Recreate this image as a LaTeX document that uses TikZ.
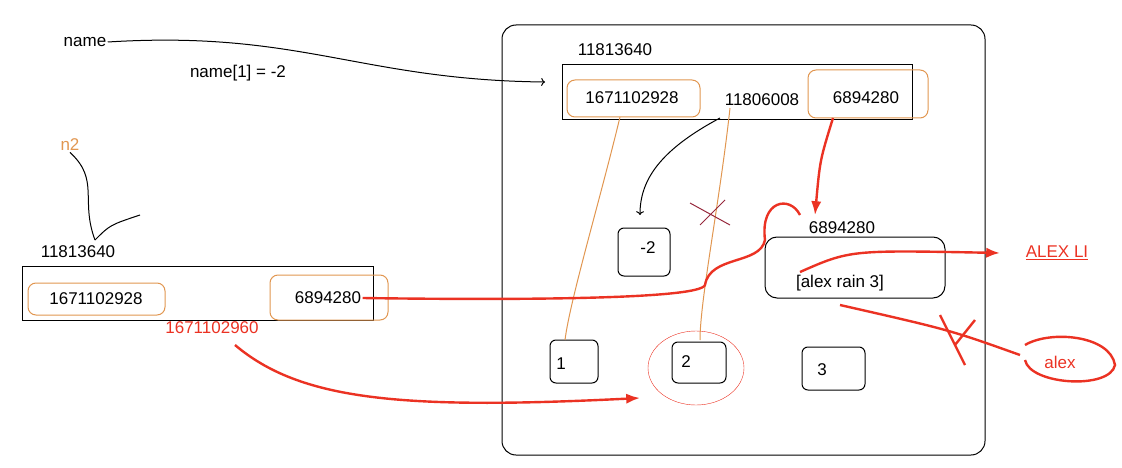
\documentclass[tikz,border=0pt]{standalone}
\usepackage{fontspec}
\setmainfont{Liberation Sans}
\usetikzlibrary{arrows.meta}
\definecolor{pen}{RGB}{235,50,35}
\definecolor{tan}{RGB}{225,150,80}
\begin{document}
\begin{tikzpicture}[x=1pt, y=-1pt, line width=1pt, every node/.style={font=\fontsize{17}{19}\selectfont, inner sep=1pt}]
        \tikzstyle{box}=[draw]
        \tikzstyle{rbox}=[draw, rounded corners=6pt]
        \tikzstyle{obox}=[draw=tan, rounded corners=8pt]
        \tikzstyle{red}=[draw=pen, line width=2.4pt]
        \useasboundingbox (0,0) rectangle (1122,468);
        \draw[rbox, rounded corners=14pt] (502,25) rectangle (985,455);

        % list name
        \node (name) at (85,42) {name};
        \node (assign) at (238,73) {name[1] = -2};
        \node (idA) at (615,50) {11813640};
        \draw[box] (562,65) rectangle (912,120);
        \draw[obox] (567,80) rectangle (700,117);
        \node (a0) at (632,98) {1671102928};
        \node (a1) at (762,100) {11806008};
        \draw[obox] (808,70) rectangle (928,118);
        \node (a2) at (866,98) {6894280};

        % values
        \draw[rbox] (618,228) rectangle (670,276);
        \node (m2) at (648,248) {-2};
        \draw[rbox] (550,340) rectangle (598,383);
        \node (v1) at (561,364) {1};
        \draw[rbox] (672,342) rectangle (726,383);
        \node (v2) at (686,362) {2};
        \draw[thin, draw=pen] (696,368) ellipse (48pt and 37pt);
        \draw[rbox] (802,347) rectangle (865,390);
        \node (v3) at (822,370) {3};
        \node (idC) at (842,228) {6894280};
        \draw[rbox, rounded corners=12pt] (765,237) rectangle (945,298);
        \node (inner) at (840,283) {[alex rain 3]};
        \node[text=pen] (alexli) at (1057,253) {\underline{ALEX LI}};
        \node[text=pen] (alex) at (1060,362) {alex};

        % n2
        \node[text=tan] (n2) at (70,145) {n2};
        \node (idB) at (78,252) {11813640};
        \draw[box] (22,266) rectangle (373,320);
        \draw[obox] (28,283) rectangle (165,315);
        \node (b0) at (96,299) {1671102928};
        \draw[obox] (270,275) rectangle (388,320);
        \node (b2) at (328,298) {6894280};
        \node[text=pen] (b1) at (212,328) {1671102960};

        % links
        \draw[->] (name.east) .. controls (300,30) and (360,80) .. (545,82);
        \draw (n2.south) .. controls (100,180) and (80,200) .. (95,240);
        \draw (95,240) .. controls (110,225) .. (140,215);
        \draw[tan] (620,117) .. controls (600,200) and (570,300) .. (565,340);
        \draw[tan] (730,108) .. controls (720,200) and (700,300) .. (700,340);
        \draw[->] (720,118) .. controls (660,150) and (640,180) .. (640,215);
        \draw[draw={rgb,255:red,150;green,40;blue,60}] (690,203) -- (730,225) (700,225) -- (725,200);
        \draw[red, -{Latex}] (833,118) .. controls (820,160) .. (815,215);
        \draw[red] (b2.east) .. controls (500,300) and (700,300) .. (705,285)
              .. controls (710,255) and (760,265) .. (765,240)
              .. controls (760,200) and (790,195) .. (800,215);
        \draw[red, -{Latex}] (800,272) .. controls (850,250) .. (1000,253);
        \draw[red] (840,305) .. controls (950,330) .. (1020,355);
        \draw[red] (940,315) -- (965,365) (975,320) -- (955,345);
        \draw[red] (1025,345) .. controls (1050,330) and (1110,335) .. (1115,365)
              .. controls (1110,390) and (1030,385) .. (1025,360);
        \draw[red, -{Latex}] (235,345) .. controls (300,400) and (400,410) .. (640,398);
\end{tikzpicture}
\end{document}
